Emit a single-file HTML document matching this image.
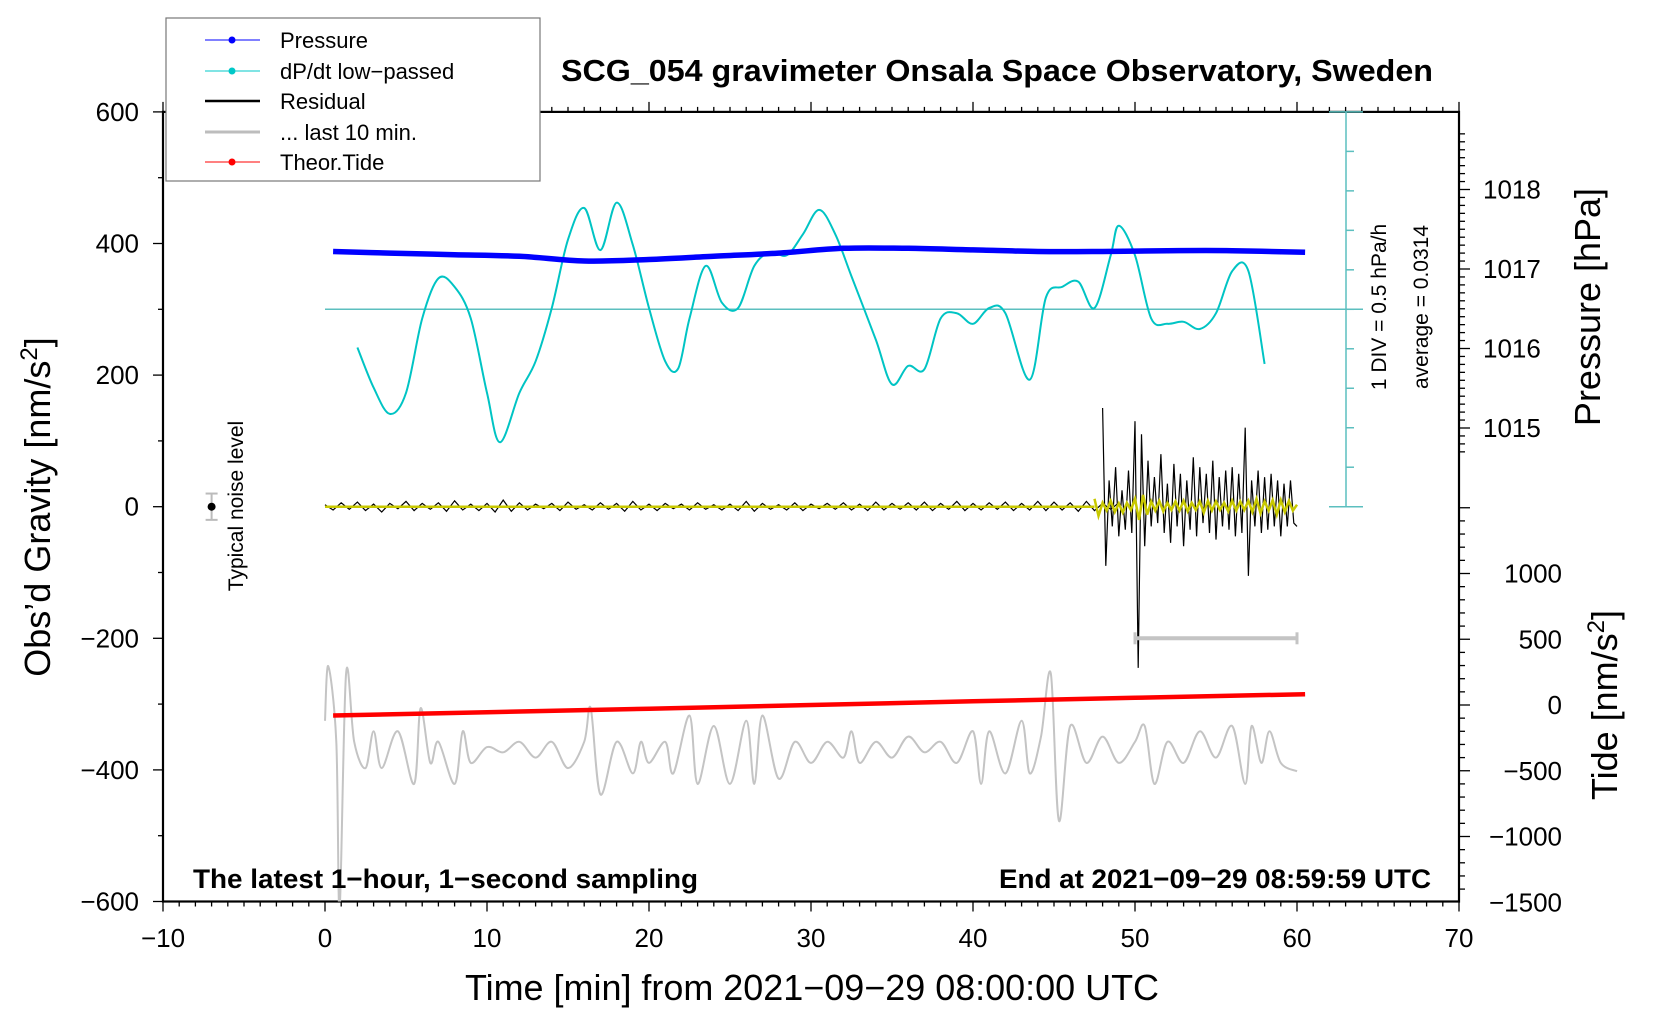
<!DOCTYPE html>
<html><head><meta charset="utf-8"><style>
html,body{margin:0;padding:0;background:#fff;}
svg{display:block;font-family:"Liberation Sans",Arial,sans-serif;}
</style></head><body>
<svg id="chart" width="1660" height="1020" viewBox="0 0 1660 1020" xmlns="http://www.w3.org/2000/svg">
<rect x="0" y="0" width="1660" height="1020" fill="#fff"/>
<g id="plot"></g>
<text x="997" y="81" text-anchor="middle" font-size="31" font-weight="bold" textLength="872" lengthAdjust="spacingAndGlyphs">SCG_054 gravimeter Onsala Space Observatory, Sweden</text>
<text x="193" y="888" font-size="27" font-weight="bold" textLength="505" lengthAdjust="spacingAndGlyphs">The latest 1−hour, 1−second sampling</text>
<text x="1431" y="888" text-anchor="end" font-size="27" font-weight="bold" textLength="432" lengthAdjust="spacingAndGlyphs">End at 2021−09−29 08:59:59 UTC</text>
<text x="812" y="1000" text-anchor="middle" font-size="36" textLength="694" lengthAdjust="spacingAndGlyphs">Time [min] from 2021−09−29 08:00:00 UTC</text>
<text transform="translate(50,507) rotate(-90)" text-anchor="middle" font-size="36">Obs’d Gravity [nm/s<tspan dy="-13" font-size="24">2</tspan><tspan dy="13">]</tspan></text>
<text transform="translate(1600,307) rotate(-90)" text-anchor="middle" font-size="36">Pressure [hPa]</text>
<text transform="translate(1617,705) rotate(-90)" text-anchor="middle" font-size="36">Tide [nm/s<tspan dy="-13" font-size="24">2</tspan><tspan dy="13">]</tspan></text>
<text transform="translate(1386,307) rotate(-90)" text-anchor="middle" font-size="21">1 DIV = 0.5 hPa/h</text>
<text transform="translate(1428,307) rotate(-90)" text-anchor="middle" font-size="21">average = 0.0314</text>
<text transform="translate(243,506) rotate(-90)" text-anchor="middle" font-size="21">Typical noise level</text>
<g>
<rect x="166" y="18" width="374" height="163" fill="#fff" stroke="#777" stroke-width="1.2"/>
<line x1="205" y1="40" x2="260" y2="40" stroke="#0000ff" stroke-width="1"/><circle cx="232" cy="40" r="3.5" fill="#0000ff"/>
<text x="280" y="48" font-size="22">Pressure</text>
<line x1="205" y1="71" x2="260" y2="71" stroke="#00c8c8" stroke-width="1"/><circle cx="232" cy="71" r="3.5" fill="#00c8c8"/>
<text x="280" y="79" font-size="22">dP/dt low−passed</text>
<line x1="205" y1="101" x2="260" y2="101" stroke="#000" stroke-width="2.5"/>
<text x="280" y="109" font-size="22">Residual</text>
<line x1="205" y1="132" x2="260" y2="132" stroke="#bdbdbd" stroke-width="3"/>
<text x="280" y="140" font-size="22">... last 10 min.</text>
<line x1="205" y1="162" x2="260" y2="162" stroke="#ff0000" stroke-width="1"/><circle cx="232" cy="162" r="3.5" fill="#ff0000"/>
<text x="280" y="170" font-size="22">Theor.Tide</text>
</g>
</svg>
<script>
// ---- data ----
const xTicks = [-10,0,10,20,30,40,50,60,70];
const gravTicks = [600,400,200,0,-200,-400,-600];
const pressTicks = [1018,1017,1016,1015];
const tideTicks = [1000,500,0,-500,-1000,-1500];
const pressureTime = [0.5,4,8,12,16,20,24,28,32,36,40,44,48,52,56,60.5];
const pressureVal = [1017.22,1017.2,1017.18,1017.16,1017.1,1017.12,1017.16,1017.2,1017.26,1017.26,1017.24,1017.22,1017.22,1017.23,1017.23,1017.21];
const dpdtTime = [2,3,4,5,6,7,8,9,10,10.8,12,13,14,15,16,17,18,19,20,21,21.8,22.5,23.5,24.5,25.5,26.5,27.5,28.5,29.5,30.5,31.5,32.5,34,35,36,37,38,39,40,41,42,43.5,44.5,45.5,46.5,47.5,48.5,49,50,51,52,53,54,55,56,57,58];
const dpdtVal = [242,181,141,173,286,347,334,286,173,98,173,221,302,406,454,390,462,398,302,221,210,286,366,310,302,366,387,382,414,451,414,350,254,186,214,209,286,294,278,302,294,193,318,334,342,302,382,427,382,286,278,281,270,294,358,358,217];
const dpdtAverage = 300;
const residEarly = [3,-5,6,-4,7,-6,4,-8,5,-3,8,-6,5,-4,6,-7,9,-5,4,-6,5,-8,10,-7,6,-5,4,-3,5,-6,7,-4,3,-5,6,-4,5,-7,8,-5,4,-6,5,-3,4,-5,6,-4,3,-5,4,-6,8,-7,5,-4,3,-5,6,-6,4,-3,5,-4,6,-5,4,-6,7,-5,5,-4,6,-5,7,-6,5,-4,8,-6,5,-5,6,-4,7,-6,5,-5,8,-6,7,-5,6,-7,8,-6,5,-4,6];
const residLate = [150,-90,40,-30,60,-45,25,-35,55,-40,130,-245,110,-60,70,-30,45,-25,80,-40,35,-55,65,-30,50,-60,40,-35,75,-45,60,-25,50,-40,70,-50,45,-30,55,-35,60,-45,50,-40,120,-105,40,-30,55,-40,45,-35,50,-30,40,-45,35,-30,40,-25,-30];
const yellowLate = [12,-14,6,-6,9,-8,5,-9,6,-5,12,-20,18,-12,8,-6,9,-7,6,-5,8,-6,9,-7,6,-5,8,-9,9,-6,8,-5,6,-7,9,-6,8,-5,9,-8,12,-10,8,-6,10,-12,10,-8,9,-6,3];
const tideTime = [0.5,10,20,30,40,50,60.5];
const tideVal = [-80,-55,-28,0,28,55,82];
const grayTime = [0,0.2,0.7,0.9,1.3,1.8,2.5,3,3.5,4.5,5.5,5.9,6.5,7,8,8.5,9,10,11,12,13,14,15,16,16.4,17,18,19,19.5,20,21,21.5,22.5,23,24,25,26,26.5,27,28,29,30,31,32,32.5,33,34,35,36,37,38,39,40,40.5,41,42,43,43.5,44.2,44.8,45.3,46,47,48,49,50,50.6,51.2,52,53,54,55,56,56.8,57.2,57.8,58.3,59,60];
const grayVal = [-120,296,-280,-1560,240,-280,-480,-200,-480,-200,-600,-24,-440,-280,-600,-200,-440,-320,-360,-280,-400,-280,-480,-280,-24,-680,-280,-520,-280,-440,-280,-520,-80,-600,-160,-600,-120,-600,-80,-560,-280,-440,-280,-400,-200,-440,-280,-400,-240,-360,-280,-440,-200,-600,-200,-520,-120,-520,-240,240,-880,-160,-440,-240,-440,-280,-160,-600,-280,-440,-200,-400,-160,-600,-160,-440,-200,-440,-504];
const noiseX = -7, noiseErr = 20;
const lastBarStart = 50, lastBarEnd = 60, lastBarLevel = -200;

// ---- axes ----
const X = m => 325 + m * 16.2;
const Yg = v => 506.7 - v * 0.658;
const Yp = p => 269 - (p - 1017) * 79.5;
const Yt = t => 705 - t * 0.1315;
const L = X(-10), R = X(70), T = Yg(600), B = Yg(-600);
const NS = 'http://www.w3.org/2000/svg';
const plot = document.getElementById('plot');
function mk(tag, attrs, parent) {
  const e = document.createElementNS(NS, tag);
  for (const k in attrs) e.setAttribute(k, attrs[k]);
  (parent || plot).appendChild(e);
  return e;
}
function pts(xs, ys, fx, fy) { return xs.map((x, i) => fx(x).toFixed(1) + ',' + fy(ys[i]).toFixed(1)).join(' '); }
function smooth(xs, ys, fx, fy) {
  const P = xs.map((x, i) => [fx(x), fy(ys[i])]);
  let d = 'M' + P[0][0].toFixed(1) + ',' + P[0][1].toFixed(1);
  for (let i = 0; i < P.length - 1; i++) {
    const p0 = P[Math.max(0, i - 1)], p1 = P[i], p2 = P[i + 1], p3 = P[Math.min(P.length - 1, i + 2)];
    const c1 = [p1[0] + (p2[0] - p0[0]) / 6, p1[1] + (p2[1] - p0[1]) / 6];
    const c2 = [p2[0] - (p3[0] - p1[0]) / 6, p2[1] - (p3[1] - p1[1]) / 6];
    d += ' C' + c1[0].toFixed(1) + ',' + c1[1].toFixed(1) + ' ' + c2[0].toFixed(1) + ',' + c2[1].toFixed(1) + ' ' + p2[0].toFixed(1) + ',' + p2[1].toFixed(1);
  }
  return d;
}

// ticks
for (let m = -10; m <= 70; m++) {
  const major = m % 10 === 0;
  const t1 = mk('line', {x1: X(m), x2: X(m), y1: B, y2: B + (major ? 10 : 5), stroke: '#000', 'stroke-width': 1.3});
  
  
  const t2 = mk('line', {x1: X(m), x2: X(m), y1: T, y2: T - (major ? 10 : 5), stroke: '#000', 'stroke-width': 1.3});
  
  
}
xTicks.forEach(m => {
  const t = mk('text', {x: X(m), y: 947, 'text-anchor': 'middle', 'font-size': 26});
  t.textContent = m < 0 ? '−' + (-m) : String(m);
  
  
});
for (let v = -600; v <= 600; v += 100) {
  const major = v % 200 === 0;
  const t = mk('line', {x1: L, x2: L - (major ? 10 : 5), y1: Yg(v), y2: Yg(v), stroke: '#000', 'stroke-width': 1.3});
  
  
}
gravTicks.forEach(v => {
  const t = mk('text', {x: 139, y: Yg(v) + 9, 'text-anchor': 'end', 'font-size': 26});
  t.textContent = v < 0 ? '−' + (-v) : String(v);
  
  
});
for (let p = 1014.7; p <= 1018.8; p += 0.1) {
  const y = Yp(p); if (y < T || y > Yg(0)) continue;
  const major = Math.abs(p - Math.round(p)) < 0.01;
  const t = mk('line', {x1: R, x2: R + (major ? 11 : 6), y1: y, y2: y, stroke: '#000', 'stroke-width': 1.3});
  
  
}
pressTicks.forEach(p => {
  const t = mk('text', {x: 1483, y: Yp(p) + 9, 'font-size': 26});
  t.textContent = String(p);
  
  
});
for (let v = -1500; v <= 1500; v += 100) {
  const y = Yt(v); if (y < Yg(0) || y > B) continue;
  const major = v % 500 === 0;
  const t = mk('line', {x1: R, x2: R + (major ? 11 : 6), y1: y, y2: y, stroke: '#000', 'stroke-width': 1.3});
  
  
}
tideTicks.forEach(v => {
  const t = mk('text', {x: 1562, y: Yt(v) + 9, 'text-anchor': 'end', 'font-size': 26});
  t.textContent = v < 0 ? '−' + (-v) : String(v);
  
  
});
const frame = mk('rect', {x: L, y: T, width: R - L, height: B - T, fill: 'none', stroke: '#000', 'stroke-width': 2.2});



// dP/dt scale axis
const cx = 1346;
const cax = mk('line', {x1: cx, x2: cx, y1: T, y2: Yg(0), stroke: '#5cbfbf', 'stroke-width': 1.5});


for (let i = 0; i <= 10; i++) {
  const y = T + (Yg(0) - T) * i / 10;
  const end = (i === 0 || i === 10);
  const t = mk('line', {x1: end ? cx - 17 : cx, x2: cx + (end ? 17 : 8), y1: y, y2: y, stroke: '#5cbfbf', 'stroke-width': 1.5});
  
  
}
const avg = mk('line', {x1: X(0), x2: cx + 17, y1: Yg(dpdtAverage), y2: Yg(dpdtAverage), stroke: '#5cbfbf', 'stroke-width': 1.5});



// clip
const defs = mk('defs', {});
const cp = mk('clipPath', {id: 'clip'}, defs);
mk('rect', {x: L, y: T, width: R - L, height: B - T}, cp);
const g = mk('g', {'clip-path': 'url(#clip)'});

// series
const gray = mk('path', {d: smooth(grayTime, grayVal, X, Yt), fill: 'none', stroke: '#c4c4c4', 'stroke-width': 2}, g);


const tide = mk('polyline', {points: pts(tideTime, tideVal, X, Yt), fill: 'none', stroke: '#ff0000', 'stroke-width': 4.5}, g);


const dp = mk('path', {d: smooth(dpdtTime, dpdtVal, X, Yg), fill: 'none', stroke: '#00c4c4', 'stroke-width': 2}, g);


const pr = mk('path', {d: smooth(pressureTime, pressureVal, X, Yp), fill: 'none', stroke: '#0000ff', 'stroke-width': 5.5, 'stroke-linejoin': 'round'}, g);


const rtE = residEarly.map((v, i) => i * 0.5);
const rtL = residLate.map((v, i) => 48 + i * 0.2);
const rtY = yellowLate.map((v, i) => 47.5 + i * 0.25);
const re = mk('polyline', {points: pts(rtE, residEarly, X, Yg), fill: 'none', stroke: '#000', 'stroke-width': 1.2}, g);


const rl = mk('polyline', {points: pts(rtL, residLate, X, Yg), fill: 'none', stroke: '#000', 'stroke-width': 1.2}, g);


const yl0 = mk('line', {x1: X(0), x2: X(47.5), y1: Yg(0), y2: Yg(0), stroke: '#c8c800', 'stroke-width': 2.5}, g);


const yl = mk('polyline', {points: pts(rtY, yellowLate, X, Yg), fill: 'none', stroke: '#c8c800', 'stroke-width': 2.5}, g);



// last-10-min bar
const lb = mk('g', {});


mk('line', {x1: X(lastBarStart), x2: X(lastBarEnd), y1: Yg(lastBarLevel), y2: Yg(lastBarLevel), stroke: '#c4c4c4', 'stroke-width': 4}, lb);
mk('line', {x1: X(lastBarStart), x2: X(lastBarStart), y1: Yg(lastBarLevel) - 6, y2: Yg(lastBarLevel) + 6, stroke: '#c4c4c4', 'stroke-width': 3}, lb);
mk('line', {x1: X(lastBarEnd), x2: X(lastBarEnd), y1: Yg(lastBarLevel) - 6, y2: Yg(lastBarLevel) + 6, stroke: '#c4c4c4', 'stroke-width': 3}, lb);

// noise marker
const nm = mk('g', {});


mk('line', {x1: X(noiseX), x2: X(noiseX), y1: Yg(noiseErr), y2: Yg(-noiseErr), stroke: '#bbb', 'stroke-width': 2}, nm);
mk('line', {x1: X(noiseX) - 6, x2: X(noiseX) + 6, y1: Yg(noiseErr), y2: Yg(noiseErr), stroke: '#bbb', 'stroke-width': 2}, nm);
mk('line', {x1: X(noiseX) - 6, x2: X(noiseX) + 6, y1: Yg(-noiseErr), y2: Yg(-noiseErr), stroke: '#bbb', 'stroke-width': 2}, nm);
mk('circle', {cx: X(noiseX), cy: Yg(0), r: 4, fill: '#000'}, nm);
</script>
</body></html>
